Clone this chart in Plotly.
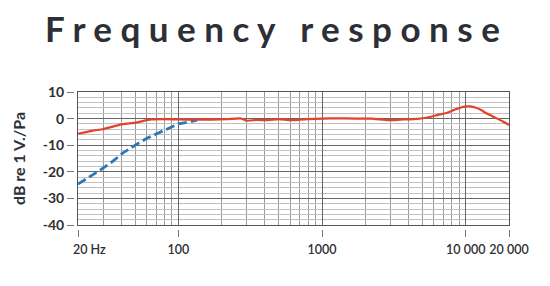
import plotly.graph_objects as go
import math

# ---- data ----
red_freq = [20, 25, 30, 35, 41, 51, 60, 65, 78, 100, 130, 170, 220, 270, 300, 350, 420, 500, 600, 700, 800,
            1000, 1300, 1700, 2200, 2900, 3500, 4600, 5500, 6400, 7500, 8500, 9800, 10800, 11800, 12800,
            13900, 15200, 16700, 18300, 20000]
red_db = [-5.7, -4.6, -3.9, -3.0, -2.1, -1.5, -0.6, -0.3, -0.2, -0.3, -0.4, -0.4, -0.2, 0.1, -0.8, -0.5,
          -0.6, -0.2, -0.6, -0.4, -0.2, 0.0, 0.1, 0.0, 0.0, -0.6, -0.4, -0.1, 0.5, 1.4, 2.3, 3.5, 4.5, 4.6,
          4.1, 3.2, 2.0, 1.0, -0.1, -1.2, -2.4]
blue_freq = [20, 25, 28.5, 35, 41.4, 51.4, 60.3, 70, 78, 90, 100, 124, 135]
blue_db = [-24.6, -21.5, -19.4, -16.0, -12.8, -9.6, -7.4, -5.8, -4.6, -3.0, -2.0, -1.0, -0.6]

x_tick_vals = [20, 100, 1000, 10000, 20000]
x_tick_text = ["", "100", "1000", "10 000", "20 000"]
first_tick_label = "20 Hz"
x_major_grid = [100, 1000, 10000]
x_minor_grid = [30, 40, 50, 60, 70, 80, 90, 200, 300, 400, 500, 600, 700, 800, 900,
                2000, 3000, 4000, 5000, 6000, 7000, 8000, 9000]
y_tick_vals = [10, 0, -10, -20, -30, -40]
y_tick_text = ["10", "0", "-10", "-20", "-30", "-40"]

title_text = "F r e q u e n c y   r e s p o n s e"
y_title = "dB re 1 V./Pa"

xr = [math.log10(20), math.log10(20000)]
yr = [-40, 10]

FONT = "Lato"
DARK = "#2e2f35"

fig = go.Figure()
fig.add_trace(go.Scatter(x=blue_freq, y=blue_db, mode="lines", xaxis="x", yaxis="y",
                         line=dict(color="#2b78b8", width=2.8, dash="9px,4px"),
                         showlegend=False, hoverinfo="skip"))
fig.add_trace(go.Scatter(x=red_freq, y=red_db, mode="lines", xaxis="x", yaxis="y",
                         line=dict(color="#e2412b", width=2.2, shape="spline", smoothing=0.5),
                         showlegend=False, hoverinfo="skip"))
# invisible trace to make the tick-only axes render
fig.add_trace(go.Scatter(x=[20], y=[0], mode="markers", xaxis="x2", yaxis="y2",
                         marker=dict(opacity=0), showlegend=False, hoverinfo="skip"))

L, R, T, B = 74, 41, 92, 57
W, H = 550 - L - R, 286 - T - B
xd0 = 4 / W
yd0 = 4 / H

fig.update_layout(
    width=550, height=286,
    margin=dict(l=L, r=R, t=T, b=B, pad=0, autoexpand=False),
    paper_bgcolor="white", plot_bgcolor="white",
    font=dict(family=FONT, color=DARK),
    xaxis=dict(type="log", range=xr, domain=[xd0, 1], anchor="y", automargin=False,
               showline=True, linecolor="#555", linewidth=1, mirror=True,
               tickmode="array", tickvals=x_major_grid, showticklabels=False, ticks="",
               showgrid=True, gridcolor="#666", gridwidth=1, zeroline=False,
               minor=dict(tickmode="array", tickvals=x_minor_grid, showgrid=True,
                          gridcolor="#9a9a9a", gridwidth=1, ticks="")),
    yaxis=dict(range=yr, domain=[yd0, 1], anchor="x", automargin=False,
               showline=True, linecolor="#555", linewidth=1, mirror=True,
               tickmode="array", tickvals=y_tick_vals, showticklabels=False, ticks="",
               showgrid=True, gridcolor="#666", gridwidth=1, zeroline=False,
               minor=dict(dtick=2, tick0=0, showgrid=True, gridcolor="#c0c0c0", gridwidth=1, ticks="")),
    xaxis2=dict(type="log", range=xr, overlaying="x", anchor="free", position=0, automargin=False,
                showline=False, showgrid=False, zeroline=False,
                tickmode="array", tickvals=x_tick_vals, ticktext=x_tick_text, tickangle=0,
                ticks="outside", ticklen=7, tickcolor="#777", tickwidth=1,
                ticklabelstandoff=2,
                tickfont=dict(family=FONT, size=12.5, color=DARK, weight=600)),
    yaxis2=dict(range=yr, overlaying="y", anchor="free", position=0, automargin=False,
                showline=False, showgrid=False, zeroline=False,
                tickmode="array", tickvals=y_tick_vals, ticktext=y_tick_text,
                ticks="outside", ticklen=7, tickcolor="#777", tickwidth=1,
                tickfont=dict(family=FONT, size=14, color=DARK, weight="bold"),
                title=dict(text=y_title, font=dict(family=FONT, size=16, color=DARK, weight="bold"),
                           standoff=12)),
)

fig.add_annotation(text=title_text, xref="paper", yref="paper",
                   x=(272 - L) / W, y=(286 - B - 28) / H,
                   xanchor="center", yanchor="middle", showarrow=False,
                   font=dict(family=FONT, size=35, color=DARK, weight="bold"))

# first x tick label, offset like the original so that "20" sits under its tick
fig.add_annotation(text=first_tick_label, xref="x", yref="paper",
                   x=math.log10(x_tick_vals[0]), y=(286 - B - 249) / H,
                   xanchor="left", yanchor="middle", xshift=-7, showarrow=False,
                   font=dict(family=FONT, size=12.5, color=DARK, weight=600))

fig.write_html("out.html")
